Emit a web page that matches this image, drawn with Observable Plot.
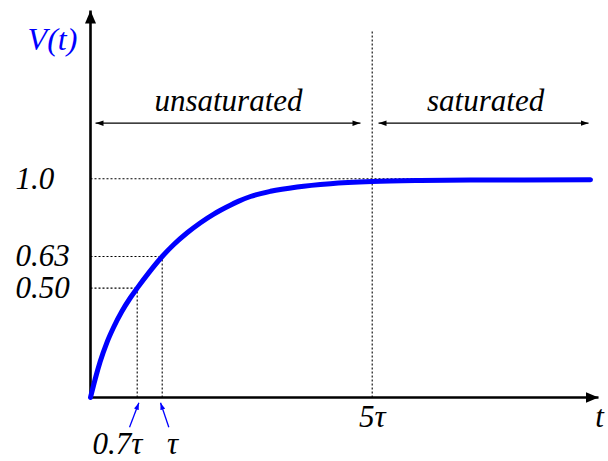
<!DOCTYPE html>
<html>
<head>
<meta charset="utf-8">
<script src="https://cdn.jsdelivr.net/npm/d3@7"></script>
<script src="https://cdn.jsdelivr.net/npm/@observablehq/plot@0.6"></script>
<style>
  html, body { margin: 0; padding: 0; background: #fff; overflow: hidden; }
  #chart svg { display: block; }
</style>
</head>
<body>
<div id="chart"></div>
<script>
// Charging curve V(t), time in units of the time constant τ
const tSamples = [0, 0.0705, 0.1454, 0.2443, 0.3448, 0.4692, 0.5951, 0.7, 0.8356, 1.0, 1.221, 1.4762, 1.7295, 1.9829, 2.2381, 2.459, 2.6819, 3.0629, 3.5714, 4.2057, 5.0, 5.92, 6.8724, 9.158];
const vSamples = [0, 0.0846, 0.1645, 0.25, 0.3199, 0.3931, 0.4548, 0.50, 0.5617, 0.63, 0.6871, 0.7429, 0.791, 0.8319, 0.8667, 0.8938, 0.9157, 0.9405, 0.9614, 0.9767, 0.9867, 0.9919, 0.9943, 0.9952];

// Marked voltage levels and the time at which each is reached
const levelValues = [1.0, 0.63, 0.50];
const levelLabels = ["1.0", "0.63", "0.50"];
const levelTimes = [null, 1, 0.7];

// Marked times
const timeTicks = [0.7, 1, 5];
const timeLabels = ["0.7τ", "τ", "5τ"];

// Regions
const regionNames = ["unsaturated", "saturated"];
const regionStart = [0.075, 5.12];
const regionEnd = [4.777, 9.12];

// Axis extents
const tMax = 9.31;
const vMax = 1.801;
const vTopGuide = 1.706;

const curve = tSamples.map((t, i) => ({t, v: vSamples[i]}));

const guides = [];
levelValues.forEach((v, i) => {
  const tEnd = levelTimes[i] == null ? 6.3 : levelTimes[i];
  guides.push({x1: 0, y1: v, x2: tEnd, y2: v});
  if (levelTimes[i] != null) guides.push({x1: tEnd, y1: 0, x2: tEnd, y2: v});
});
guides.push({x1: timeTicks[2], y1: 0, x2: timeTicks[2], y2: vTopGuide});

const axes = [
  {x1: 0, y1: 0, x2: tMax, y2: 0},
  {x1: 0, y1: 0, x2: 0, y2: vMax}
];

const spanY = 1.265;
const spans = regionNames.map((name, i) => ({x1: regionStart[i], x2: regionEnd[i], y1: spanY, y2: spanY}));
const spanLabels = regionNames.map((name, i) => ({name, t: [2.263, 7.16][i], v: 1.371}));

const levelText = levelValues.map((v, i) => ({v, label: levelLabels[i]}));

const timeText = [
  {t: 0.405, v: -0.2143, label: timeLabels[0]},
  {t: 1.196, v: -0.2143, label: timeLabels[1]},
  {t: timeTicks[2], v: -0.089, label: timeLabels[2]},
  {t: 9.33, v: -0.089, label: "t"}
];

const pointers = [
  {x1: 0.585, y1: -0.136, x2: 0.72, y2: -0.024},
  {x1: 1.126, y1: -0.136, x2: 0.98, y2: -0.024}
];

const serif = "'Liberation Serif', 'Times New Roman', serif";

const chart = Plot.plot({
  width: 608,
  height: 461,
  margin: 0,
  style: {background: "#fff", fontFamily: serif},
  x: {type: "linear", domain: [0, 0.7, 1, 5, tMax], range: [90, 136.7, 161.7, 371.7, 598], axis: null},
  y: {type: "linear", domain: [0, 0.5, 0.63, 1], range: [397, 287.6, 256, 178.3], axis: null},
  marks: [
    Plot.link(guides, {x1: "x1", y1: "y1", x2: "x2", y2: "y2", stroke: "#000", strokeWidth: 1.1, strokeDasharray: "2,2"}),
    Plot.link(axes, {x1: "x1", y1: "y1", x2: "x2", y2: "y2", stroke: "#000", strokeWidth: 2.6, strokeLinecap: "butt", ariaDescription: "axes"}),
    Plot.link(spans, {x1: "x1", y1: "y1", x2: "x2", y2: "y2", stroke: "#000", strokeWidth: 1.3, ariaDescription: "spans"}),
    Plot.link(pointers, {x1: "x1", y1: "y1", x2: "x2", y2: "y2", stroke: "#0000ff", strokeWidth: 1.3, ariaDescription: "pointers"}),
    Plot.text(spanLabels, {x: "t", y: "v", text: "name", fontSize: 31, fontStyle: "italic", fill: "#000"}),
    Plot.text(levelText, {x: 0, y: "v", text: "label", fontSize: 31, fontStyle: "italic", fill: "#000", textAnchor: "start", dx: -75}),
    Plot.text(timeText, {x: "t", y: "v", text: "label", fontSize: 31, fontStyle: "italic", fill: "#000"}),
    Plot.text([{t: -0.57, v: 1.661}], {x: "t", y: "v", text: () => "V(t)", fontSize: 32, fontStyle: "italic", fill: "#0000ff"}),
    Plot.line(curve, {x: "t", y: "v", stroke: "#0000ff", strokeWidth: 5, curve: "monotone-x"})
  ]
});

// Filled arrowheads for the axes, spans and pointers
const root = d3.select(chart);
const defs = root.insert("defs", ":first-child");
function head(id, len, wid, color) {
  defs.append("marker")
    .attr("id", id)
    .attr("viewBox", `0 ${-wid / 2} ${len} ${wid}`)
    .attr("refX", len).attr("refY", 0)
    .attr("markerWidth", len).attr("markerHeight", wid)
    .attr("markerUnits", "userSpaceOnUse")
    .attr("orient", "auto-start-reverse")
    .append("path")
    .attr("d", `M0,${-wid / 2}L${len},0L0,${wid / 2}Z`)
    .attr("fill", color);
}
head("head-axis", 13, 11, "#000");
head("head-span", 8, 5.5, "#000");
head("head-pointer", 7, 5, "#0000ff");
root.selectAll('g[aria-description="axes"] path').attr("marker-end", "url(#head-axis)");
root.selectAll('g[aria-description="spans"] path').attr("marker-start", "url(#head-span)").attr("marker-end", "url(#head-span)");
root.selectAll('g[aria-description="pointers"] path').attr("marker-end", "url(#head-pointer)");

document.getElementById("chart").appendChild(chart);
</script>
</body>
</html>
